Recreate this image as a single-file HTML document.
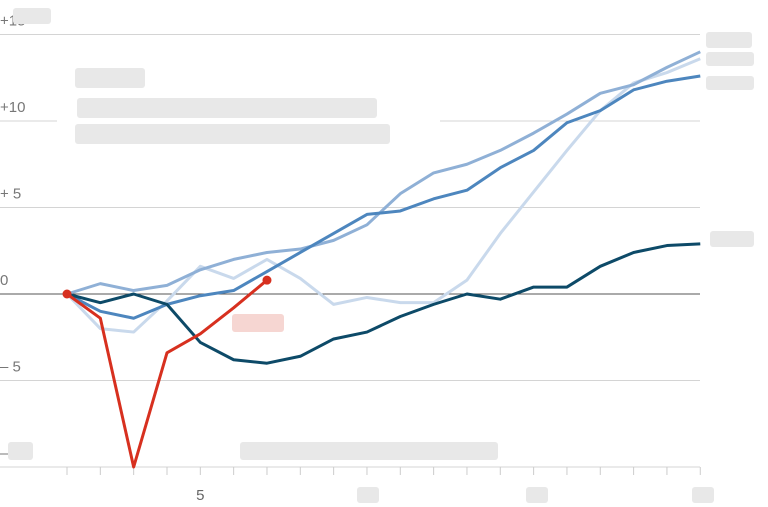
<!DOCTYPE html>
<html><head><meta charset="utf-8"><style>
body{margin:0;background:#fff;font-family:"Liberation Sans",sans-serif}
svg{display:block}
.red{fill:#e6e6e6;}
</style></head><body>
<svg id="c" width="768" height="507" xmlns="http://www.w3.org/2000/svg"></svg>
<script>
const xs=[1,2,3,4,5,6,7,8,9,10,11,12,13,14,15,16,17,18,19,20];
const seriesA=[0,0.6,0.2,0.5,1.4,2,2.4,2.6,3.1,4,5.8,7,7.5,8.3,9.3,10.4,11.6,12.1,13.1,14];
const seriesB=[0,-1,-1.4,-0.6,-0.1,0.2,1.3,2.4,3.5,4.6,4.8,5.5,6,7.3,8.3,9.9,10.6,11.8,12.3,12.6];
const seriesC=[0,-2,-2.2,-0.4,1.6,0.9,2,0.9,-0.6,-0.2,-0.5,-0.5,0.8,3.5,5.9,8.3,10.6,12.2,12.8,13.6];
const seriesD=[0,-0.5,0,-0.6,-2.8,-3.8,-4,-3.6,-2.6,-2.2,-1.3,-0.6,0,-0.3,0.4,0.4,1.6,2.4,2.8,2.9];
const redX=[1,2,3,4,5,6,7];
const redY=[0,-1.4,-10,-3.4,-2.3,-0.8,0.8];
const yTicks=[15,10,5,0,-5,-10];
const yLabels=["+15","+10","+ 5","0","– 5","–10"];
const xLabelVals=[5,10,15,20];
const ns="http://www.w3.org/2000/svg",svg=document.getElementById('c');
const X=v=>67+(v-1)*33.33, Y=v=>294-v*17.3;
function el(t,a,p){const e=document.createElementNS(ns,t);for(const k in a)e.setAttribute(k,a[k]);(p||svg).appendChild(e);return e;}
yTicks.forEach((t,i)=>{
 const g=el('line',{x1:0,x2:700,y1:Y(t),y2:Y(t),stroke:t===0?'#555':'#d4d4d4','stroke-width':1});
 
 
 const tx=el('text',{x:0,y:Y(t)-9,'font-size':15,fill:'#777'});
 tx.textContent=yLabels[i];
 
 
});
xs.forEach(v=>{
 const t=el('line',{x1:X(v),x2:X(v),y1:Y(-10),y2:Y(-10)+8,stroke:'#ccc'});
 
 
});
xLabelVals.forEach(v=>{
 const t=el('text',{x:X(v),y:500,'font-size':15,fill:'#666','text-anchor':'middle'});
 t.textContent=v;
 
 
});
// annotation box
const bx=el('rect',{x:57,y:60,width:383,height:90,fill:'#fff'});


[[75,68,70,20],[77,98,300,20],[75,124,315,20],[232,314,52,18],[240,442,258,18],[706,32,46,16],[706,52,48,14],[706,76,48,14],[710,231,44,16],[357,487,22,16],[526,487,22,16],[692,487,22,16],[13,8,38,16],[8,442,25,18]].forEach((r,i)=>{
 const b=el('rect',{x:r[0],y:r[1],width:r[2],height:r[3],fill:i===3?'#f6d6d2':'#e8e8e8',rx:3});
 
 
});
function line(vals,col,name,xv){
 const d=vals.map((v,i)=>(i?'L':'M')+X((xv||xs)[i])+','+Y(v)).join('');
 const p=el('path',{d:d,fill:'none',stroke:col,'stroke-width':3,'stroke-linejoin':'round'});
 
 
}
line(seriesC,'#c9d9ec','series-c-line');
line(seriesA,'#8fb0d6','series-a-line');
line(seriesB,'#4d86be','series-b-line');
line(seriesD,'#0d4a68','series-d-line');
line(redY,'#d7301f','red-series-line',redX);
[0,redX.length-1].forEach(i=>{
 const c=el('circle',{cx:X(redX[i]),cy:Y(redY[i]),r:4.5,fill:'#d7301f'});
 
 
});
</script>
</body></html>
